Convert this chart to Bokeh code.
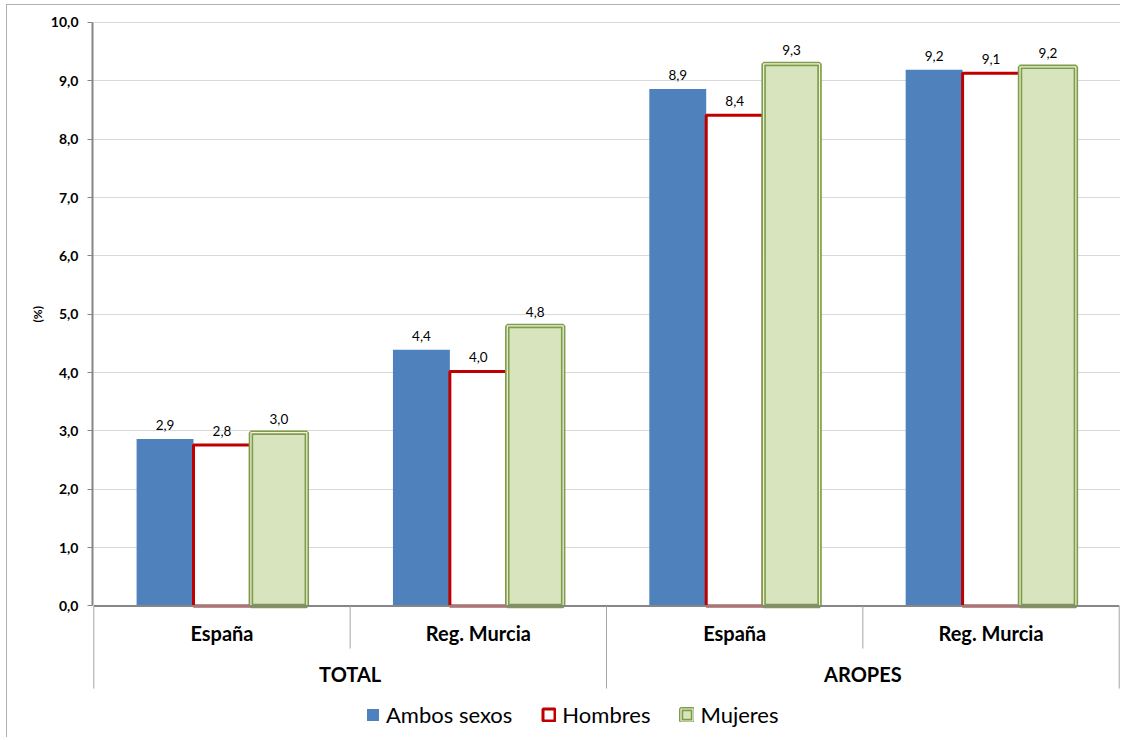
import math
from bokeh.plotting import figure
from bokeh.models import (FixedTicker, Legend, LegendItem, ColumnDataSource,
                          CustomJSTickFormatter, Title)
from bokeh.core.properties import value
from bokeh.embed import file_html
from bokeh.resources import INLINE

# ---------------- data ----------------
groups = ["TOTAL", "AROPES"]
regions = ["España", "Reg. Murcia"]
series = ["Ambos sexos", "Hombres", "Mujeres"]
ambos = [2.86, 4.39, 8.86, 9.19]
hombres = [2.76, 4.02, 8.41, 9.13]
mujeres = [2.97, 4.80, 9.29, 9.24]
y_ticks = [0, 1, 2, 3, 4, 5, 6, 7, 8, 9, 10]

FONT = "Lato"
n = len(groups) * len(regions)
centers = [i + 0.5 for i in range(n)]
BW = 0.222
offsets = [-BW, 0.0, BW]


def fmt(v):
    return f"{v:.1f}".replace(".", ",")


p = figure(width=1114, height=733, x_range=(-0.005, n + 0.005), y_range=(-2.271, 10.291),
           output_backend="svg", toolbar_location=None,
           min_border_left=85, min_border_right=1, min_border_top=0, min_border_bottom=0)
p.outline_line_color = None
p.background_fill_color = "white"
p.border_fill_color = "white"
p.styles = {"margin-left": "6px", "margin-top": "4px",
            "border-left": "1px solid #b0b0b0", "border-top": "1px solid #b0b0b0"}
p.xaxis.visible = False
p.xgrid.visible = False

yax = p.yaxis[0]
yax.ticker = FixedTicker(ticks=y_ticks)
yax.formatter = CustomJSTickFormatter(code="return tick.toFixed(1).replace('.', ',');")
yax.bounds = (0, 10)
yax.axis_line_color = "#868686"
yax.axis_line_width = 2
yax.major_tick_line_color = "#868686"
yax.major_tick_out = 5
yax.major_tick_in = 0
yax.minor_tick_line_color = None
yax.major_label_text_font = FONT
yax.major_label_text_font_style = "bold"
yax.major_label_text_font_size = "14px"
yax.major_label_text_color = "black"
yax.major_label_standoff = 9

p.ygrid.ticker = FixedTicker(ticks=y_ticks[1:])
p.ygrid.grid_line_color = "#d9d9d9"
p.ygrid.grid_line_width = 1

p.add_layout(Title(text="(%)", align="left", offset=416, standoff=6,
                   text_font=FONT, text_font_style="bold", text_font_size="12px",
                   text_color="black"), "left")

# ---------------- bars ----------------
vals = [ambos, hombres, mujeres]
srcs = []
for k, v in enumerate(vals):
    srcs.append(ColumnDataSource(dict(x=[c + offsets[k] for c in centers], top=v,
                                      lab=[fmt(t) for t in v])))

r_blue = p.vbar(x="x", top="top", bottom=0, width=BW, source=srcs[0],
                fill_color="#4f81bd", line_color=None)
r_red = p.vbar(x="x", top="top", bottom=0, width=BW, source=srcs[1],
               fill_color="white", line_color="#c00000", line_width=3)
r_green = p.vbar(x="x", top="top", bottom=0, width=BW - 0.004, source=srcs[2],
                 fill_color="#d7e4bd", line_color="#7f9d48", line_width=4.5)
r_green2 = p.vbar(x="x", top="top", bottom=0, width=BW - 0.004, source=srcs[2],
                  fill_color=None, line_color="#edf3e0", line_width=1.2)

for s in srcs:
    p.text(x="x", y="top", text="lab", source=s, text_align="center",
           text_baseline="middle", y_offset=-14, text_font=value(FONT),
           text_font_size="13.5px", text_color="black")

# ---------------- category axis (drawn) ----------------
p.segment(x0=[0], y0=[0], x1=[n], y1=[0], line_color="#868686", line_width=2)
div_x = list(range(n + 1))
div_bottom = [-1.415 if i % 2 == 0 else -0.73 for i in div_x]
p.segment(x0=div_x, y0=[0] * len(div_x), x1=div_x, y1=div_bottom,
          line_color="#a6a6a6", line_width=1)

p.text(x=centers, y=[-0.471] * n, text=regions * len(groups), text_align="center",
       text_baseline="middle", text_font=value(FONT), text_font_style="bold",
       text_font_size="20px", text_color="black")
gcent = [len(regions) * (g + 0.5) for g in range(len(groups))]
p.text(x=gcent, y=[-1.174] * len(groups), text=groups, text_align="center",
       text_baseline="middle", text_font=value(FONT), text_font_style="bold",
       text_font_size="20px", text_color="black")

legend = Legend(items=[LegendItem(label=series[0], renderers=[r_blue]),
                       LegendItem(label=series[1], renderers=[r_red]),
                       LegendItem(label=series[2], renderers=[r_green, r_green2])],
                orientation="horizontal", location=(273, 10))
legend.glyph_width = 15
legend.glyph_height = 15
legend.label_standoff = 6
legend.spacing = 29
legend.padding = 0
legend.margin = 0
legend.border_line_color = None
legend.background_fill_alpha = 0
legend.label_text_font = FONT
legend.label_text_font_size = "22px"
legend.label_text_color = "black"
legend.label_height = 16
p.add_layout(legend)

open("out.html", "w").write(file_html(p, INLINE))
